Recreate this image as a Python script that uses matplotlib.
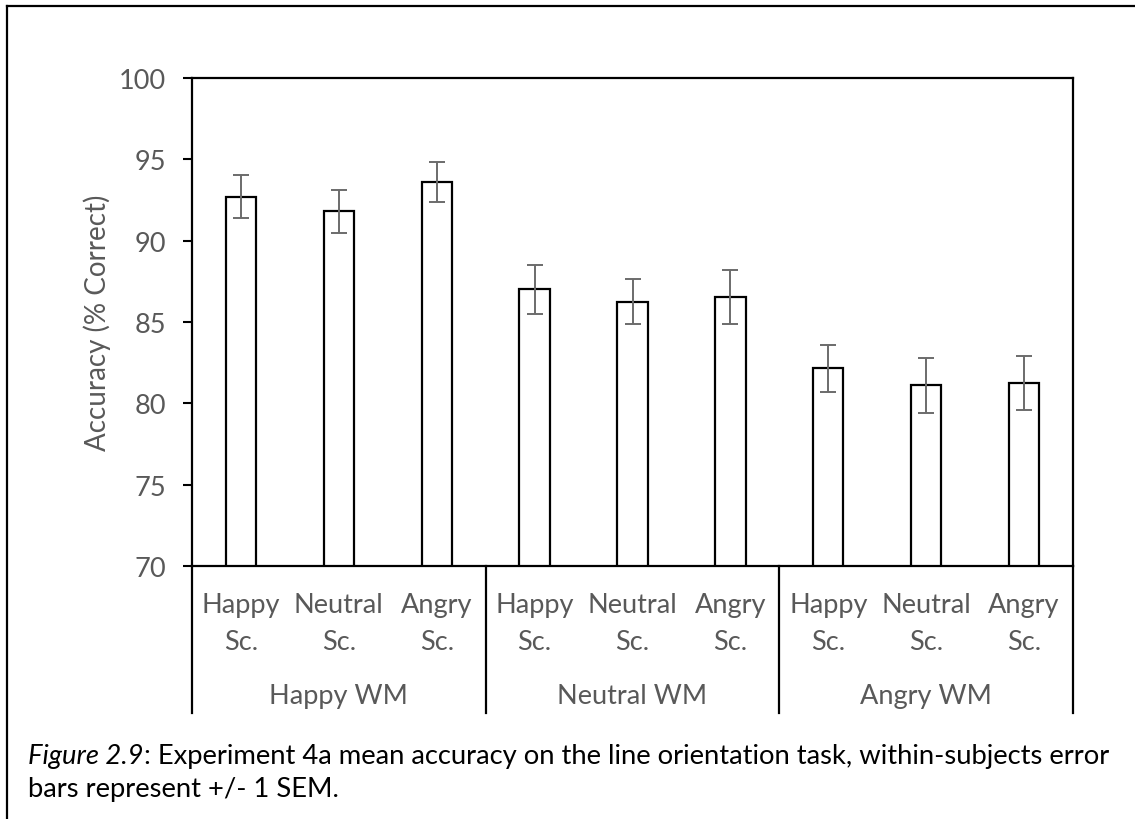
import matplotlib
matplotlib.use("Agg")
import matplotlib.pyplot as plt
from matplotlib.lines import Line2D
import numpy as np

# Mean accuracy (% correct) and within-subjects SEM, per scene within each WM condition
wm_groups = ["Happy WM", "Neutral WM", "Angry WM"]
scene_labels = ["Happy\nSc.", "Neutral\nSc.", "Angry\nSc."]
means = [92.7, 91.8, 93.6, 87.0, 86.25, 86.55, 82.15, 81.1, 81.25]
sems = [1.33, 1.33, 1.24, 1.5, 1.4, 1.65, 1.43, 1.68, 1.68]
y_ticks = [70, 75, 80, 85, 90, 95, 100]

FONT = "Lato"
GREY = "#595959"
LABEL_SIZE = 19.5
W, H = 1135, 820

fig = plt.figure(figsize=(W / 100, H / 100), dpi=100)
fig.patch.set_facecolor("white")

ax = fig.add_axes([192 / W, 1 - 567 / H, (1073 - 192) / W, (567 - 79) / H])

x = np.arange(len(means))
ax.bar(x, means, width=0.31, bottom=0, color="white", edgecolor="black",
       linewidth=1.6, zorder=2)
ax.errorbar(x, means, yerr=sems, fmt="none", ecolor="#6b6b6b", elinewidth=1.4,
            capsize=5.5, capthick=1.4, zorder=3)

ax.set_xlim(-0.5, len(means) - 0.5)
ax.set_ylim(70, 100)
ax.set_yticks(y_ticks)
ax.set_yticklabels([str(t) for t in y_ticks], fontsize=LABEL_SIZE, color=GREY,
                   fontfamily=FONT)
ax.tick_params(axis="y", direction="out", length=6.5, width=1.5, color="black",
               pad=12)
ax.set_xticks([])
for s in ax.spines.values():
    s.set_linewidth(1.6)
    s.set_color("black")

ax.set_ylabel("Accuracy (% Correct)", fontsize=20, color=GREY,
              fontfamily=FONT, labelpad=6)

# Two-level category axis below the plot area
trans = ax.get_xaxis_transform()
ax_h = 567 - 79
sep_bottom = -(714 - 567) / ax_h
for b in np.arange(-0.5, len(means), 3):
    ax.add_line(Line2D([b, b], [0, sep_bottom], transform=trans, color="black",
                       linewidth=1.6, clip_on=False))

for i, xi in enumerate(x):
    ax.text(xi, -(624 - 567) / ax_h, scene_labels[i % 3], transform=trans,
            ha="center", va="center", fontsize=LABEL_SIZE, color=GREY,
            fontfamily=FONT, linespacing=1.6)

for g, name in enumerate(wm_groups):
    ax.text(3 * g + 1, -(697 - 567) / ax_h, name, transform=trans,
            ha="center", va="center", fontsize=LABEL_SIZE, color=GREY,
            fontfamily=FONT)

# Outer frame (left and top edges)
fig.add_artist(Line2D([7 / W, 7 / W], [0, 1 - 7 / H], transform=fig.transFigure,
                      color="black", linewidth=1.6))
fig.add_artist(Line2D([7 / W, 1], [1 - 7 / H, 1 - 7 / H],
                      transform=fig.transFigure, color="black", linewidth=1.6))

# Caption with italic figure number
renderer = fig.canvas.get_renderer()
cap_size = 19.7
y1 = 1 - 757 / H
y2 = 1 - 790 / H
t_it = fig.text(28 / W, y1, "Figure 2.9", fontsize=cap_size, style="italic",
                fontfamily=FONT, va="center", ha="left", color="black")
bb = t_it.get_window_extent(renderer=renderer)
fig.text(bb.x1 / W, y1,
         ": Experiment 4a mean accuracy on the line orientation task, "
         "within-subjects error",
         fontsize=cap_size, fontfamily=FONT, va="center", ha="left",
         color="black")
fig.text(28 / W, y2, "bars represent +/- 1 SEM.", fontsize=cap_size,
         fontfamily=FONT, va="center", ha="left", color="black")

fig.savefig("out.png", dpi=100, facecolor="white")
